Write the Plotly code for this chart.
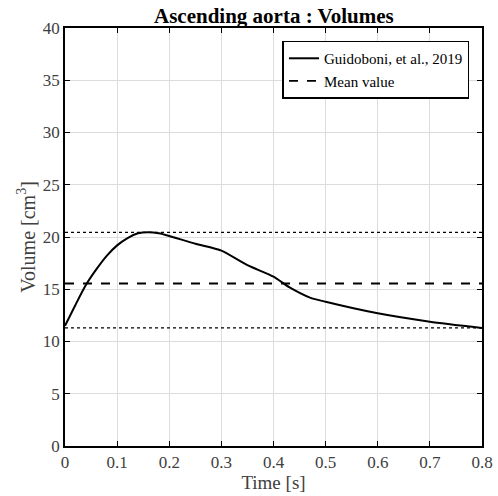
import plotly.graph_objects as go

time_s = [0, 0.02, 0.04, 0.06, 0.08, 0.10, 0.12, 0.14, 0.16, 0.18, 0.20, 0.25, 0.30,
          0.35, 0.40, 0.43, 0.47, 0.50, 0.60, 0.70, 0.80]
volume = [11.5, 13.5, 15.4, 16.9, 18.2, 19.2, 19.9, 20.35, 20.45, 20.35, 20.1, 19.35,
          18.7, 17.3, 16.2, 15.2, 14.2, 13.8, 12.7, 11.9, 11.3]
mean_value = 15.55
max_value = 20.45
min_value = 11.3
x_ticks = [0, 0.1, 0.2, 0.3, 0.4, 0.5, 0.6, 0.7, 0.8]
y_ticks = [0, 5, 10, 15, 20, 25, 30, 35, 40]

FONT = "Liberation Serif"
x_span = [x_ticks[0], x_ticks[-1]]

fig = go.Figure()
fig.add_trace(go.Scatter(x=time_s, y=volume, mode="lines", name="Guidoboni, et al., 2019",
                         line=dict(color="black", width=2, shape="spline", smoothing=0.6)))
fig.add_trace(go.Scatter(x=x_span, y=[mean_value] * 2, mode="lines", name="Mean value",
                         line=dict(color="black", width=1.8, dash="dash")))
fig.add_trace(go.Scatter(x=x_span, y=[max_value] * 2, mode="lines", showlegend=False,
                         line=dict(color="black", width=1.2, dash="dot")))
fig.add_trace(go.Scatter(x=x_span, y=[min_value] * 2, mode="lines", showlegend=False,
                         line=dict(color="black", width=1.2, dash="dot")))

axis_common = dict(showgrid=True, gridcolor="#dcdcdc", gridwidth=1, showline=True,
                   linecolor="black", linewidth=1.5, mirror="ticks", ticks="inside",
                   ticklen=5, tickwidth=1.2, tickcolor="black", zeroline=False,
                   automargin=False,
                   tickfont=dict(family=FONT, size=17, color="#404040"))

fig.update_xaxes(range=x_span, tickvals=x_ticks, ticktext=[f"{v:g}" for v in x_ticks],
                 title=dict(text="Time [s]", font=dict(family=FONT, size=19, color="#404040"),
                            standoff=2), **axis_common)
fig.update_yaxes(range=[0, 40], tickvals=y_ticks,
                 title=dict(text="Volume [cm<sup>3</sup>]",
                            font=dict(family=FONT, size=20, color="#404040"), standoff=2),
                 **axis_common)

fig.update_layout(
    width=498, height=496,
    margin=dict(l=65, r=16, t=28, b=50),
    plot_bgcolor="white", paper_bgcolor="white",
    title=dict(text="<b>Ascending aorta : Volumes</b>", x=0.55, xanchor="center",
               y=0.983, yanchor="top", font=dict(family=FONT, size=21, color="black")),
    legend=dict(x=0.97, y=0.97, xanchor="right", yanchor="top", bgcolor="white",
                bordercolor="black", borderwidth=1.5,
                font=dict(family=FONT, size=15, color="black"),
                tracegroupgap=0, itemwidth=30),
    showlegend=True,
)

fig.write_html("out.html", config={"displayModeBar": False},
               post_script="document.body.style.margin='0';document.body.style.overflow='hidden';")
